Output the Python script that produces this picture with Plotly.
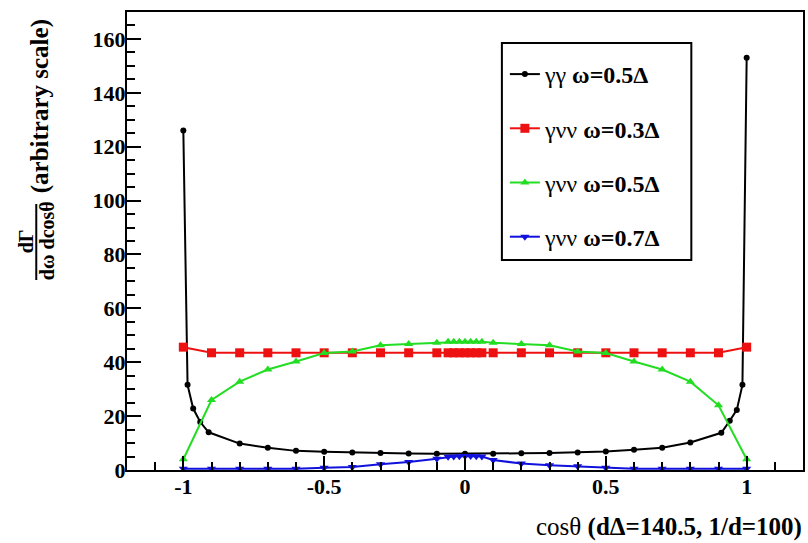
import plotly.graph_objects as go

# ---------------- data ----------------
black_x = [-1, -0.985, -0.965, -0.94, -0.91, -0.8, -0.7, -0.6, -0.5, -0.4, -0.3, -0.2, -0.1, 0,
           0.1, 0.2, 0.3, 0.4, 0.5, 0.6, 0.7, 0.8, 0.91, 0.94, 0.965, 0.985, 1]
black_y = [126, 31.6, 22.8, 17.8, 14.0, 9.8, 8.3, 7.1, 6.8, 6.5, 6.3, 6.1, 6.0, 6.0,
           6.0, 6.2, 6.3, 6.5, 6.9, 7.5, 8.3, 10.2, 13.8, 18.3, 22.3, 31.6, 153]

grid_x = [-1, -0.9, -0.8, -0.7, -0.6, -0.5, -0.4, -0.3, -0.2, -0.1,
          -0.06, -0.04, -0.02, 0, 0.02, 0.04, 0.06,
          0.1, 0.2, 0.3, 0.4, 0.5, 0.6, 0.7, 0.8, 0.9, 1]
red_y = [45.6, 43.5, 43.5, 43.5, 43.5, 43.5, 43.5, 43.5, 43.5, 43.5,
         43.5, 43.5, 43.5, 43.5, 43.5, 43.5, 43.5,
         43.5, 43.5, 43.5, 43.5, 43.5, 43.5, 43.5, 43.5, 43.5, 45.6]
green_y = [4, 26, 32.8, 37.3, 40.3, 43.4, 44.0, 46.3, 46.8, 47.2,
           47.6, 47.6, 47.6, 47.6, 47.6, 47.6, 47.6,
           47.2, 46.8, 46.3, 44.0, 43.4, 40.3, 37.3, 32.8, 24, 4]
blue_y = [0.5, 0.5, 0.5, 0.5, 0.5, 0.8, 1.1, 2.1, 3.0, 4.2,
          4.9, 5.0, 5.1, 5.2, 5.2, 5.1, 5.0,
          3.7, 2.4, 1.8, 1.4, 0.8, 0.5, 0.5, 0.5, 0.5, 0.5]

names = ["γγ <b>ω=0.5Δ</b>", "γνν <b>ω=0.3Δ</b>", "γνν <b>ω=0.5Δ</b>", "γνν <b>ω=0.7Δ</b>"]
x_tick_vals = [-1, -0.5, 0, 0.5, 1]
x_tick_text = ["-1", "-0.5", "0", "0.5", "1"]
y_tick_vals = [0, 20, 40, 60, 80, 100, 120, 140, 160]

FONT = "Liberation Serif"
W, H = 808, 543
ML, MR, MT, MB = 127, 3, 12, 73
PW, PH = W - ML - MR, H - MT - MB

fig = go.Figure()
fig.add_trace(go.Scatter(x=black_x, y=black_y, mode="lines+markers", name=names[0],
                         line=dict(color="black", width=2),
                         marker=dict(symbol="circle", size=6, color="black"),
                         legendgroup="a"))
fig.add_trace(go.Scatter(x=grid_x, y=red_y, mode="lines+markers", name=names[1],
                         line=dict(color="#ee1111", width=2),
                         marker=dict(symbol="square", size=9, color="#ee1111"),
                         legendgroup="b"))
fig.add_trace(go.Scatter(x=grid_x, y=green_y, mode="lines+markers", name=names[2],
                         line=dict(color="#22dd22", width=2),
                         marker=dict(symbol="triangle-up", size=8, color="#22dd22"),
                         legendgroup="c"))
fig.add_trace(go.Scatter(x=grid_x, y=blue_y, mode="lines+markers", name=names[3],
                         line=dict(color="#1111dd", width=2),
                         marker=dict(symbol="triangle-down", size=8, color="#1111dd"),
                         legendgroup="d"))

def px2paper_x(px):
    return (px - ML) / PW

def px2paper_y(py):
    return (H - MB - py) / PH

fig.update_layout(
    width=W, height=H,
    margin=dict(l=ML, r=MR, t=MT, b=MB),
    paper_bgcolor="white", plot_bgcolor="white",
    showlegend=True,
    legend=dict(x=px2paper_x(506), y=px2paper_y(52), xanchor="left", yanchor="top",
                font=dict(family=FONT, size=24, color="black"),
                bgcolor="rgba(0,0,0,0)", borderwidth=0,
                tracegroupgap=20, itemwidth=30),
    font=dict(family=FONT, color="black"),
)
fig.update_xaxes(range=[-1.2, 1.2], showgrid=False, zeroline=False,
                 showline=True, linecolor="black", linewidth=2, mirror=True,
                 ticks="inside", ticklen=14, tickwidth=2, tickcolor="black",
                 tickvals=x_tick_vals, ticktext=x_tick_text, ticklabelstandoff=-4,
                 tickfont=dict(family=FONT, size=22, color="black", weight="bold"),
                 minor=dict(ticks="inside", ticklen=8, tickwidth=2, tickcolor="black", dtick=0.1, tick0=0))
fig.update_yaxes(range=[0, 170], showgrid=False, zeroline=False,
                 showline=True, linecolor="black", linewidth=2, mirror=True,
                 ticks="inside", ticklen=14, tickwidth=2, tickcolor="black",
                 tickvals=y_tick_vals, ticklabelstandoff=-5,
                 tickfont=dict(family=FONT, size=22, color="black", weight="bold"),
                 minor=dict(ticks="inside", ticklen=8, tickwidth=2, tickcolor="black", dtick=5, tick0=0))

# legend box
fig.add_shape(type="rect", xref="paper", yref="paper",
              x0=px2paper_x(503), x1=px2paper_x(693), y0=px2paper_y(260), y1=px2paper_y(43),
              line=dict(color="black", width=2), fillcolor="rgba(0,0,0,0)", layer="above")

# x title
fig.add_annotation(xref="paper", yref="paper", x=px2paper_x(806), y=px2paper_y(527),
                   xanchor="right", yanchor="middle", showarrow=False,
                   text="cosθ <b>(dΔ=140.5, 1/d=100)</b>",
                   font=dict(family=FONT, size=25, color="black"))
# y title: fraction + (arbitrary scale)
fig.add_annotation(xref="paper", yref="paper", x=px2paper_x(26), y=px2paper_y(241),
                   xanchor="center", yanchor="middle", showarrow=False, textangle=-90,
                   text="<b>dΓ</b>", font=dict(family=FONT, size=20, color="black"))
fig.add_annotation(xref="paper", yref="paper", x=px2paper_x(47), y=px2paper_y(241),
                   xanchor="center", yanchor="middle", showarrow=False, textangle=-90,
                   text="<b>dω dcosθ</b>", font=dict(family=FONT, size=20, color="black"))
fig.add_shape(type="line", xref="paper", yref="paper",
              x0=px2paper_x(36), x1=px2paper_x(36), y0=px2paper_y(204), y1=px2paper_y(280),
              line=dict(color="black", width=2))
fig.add_annotation(xref="paper", yref="paper", x=px2paper_x(40), y=px2paper_y(106),
                   xanchor="center", yanchor="middle", showarrow=False, textangle=-90,
                   text="<b>(arbitrary scale)</b>", font=dict(family=FONT, size=25, color="black"))

fig.write_html("out.html")
